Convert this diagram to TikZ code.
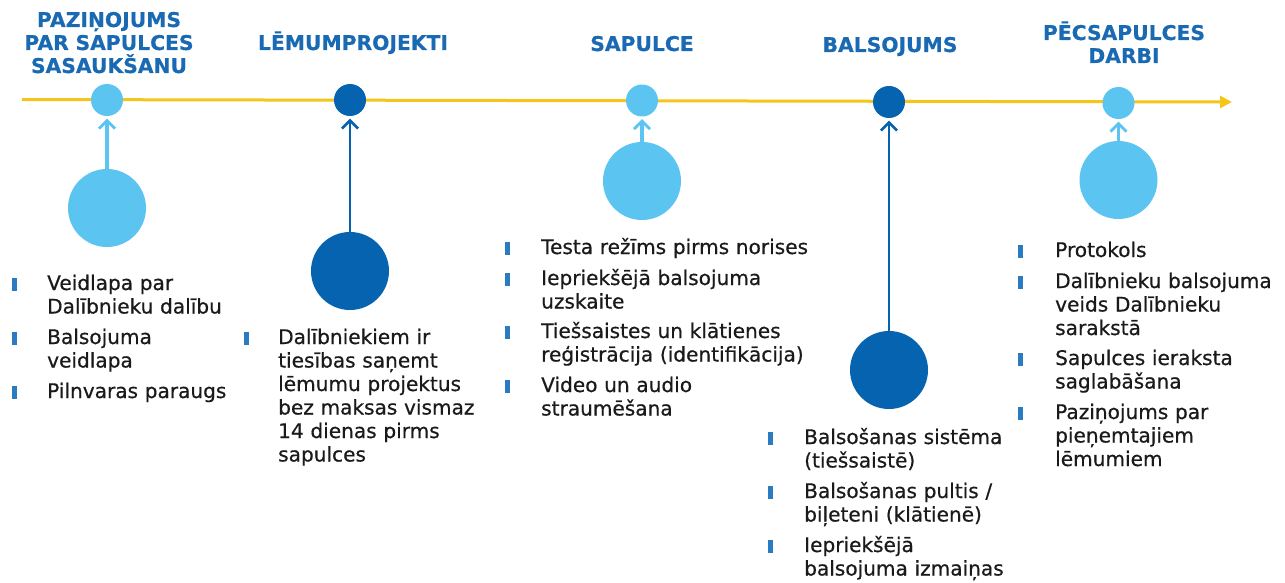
\documentclass[tikz,border=0pt]{standalone}
\usepackage{fontspec}
\setmainfont{DejaVu Sans}
\newfontfamily\bodyfont[FakeBold=0.6]{DejaVu Sans}
\newfontfamily\headfont[FakeBold=0.5]{DejaVu Sans Bold}
\usetikzlibrary{arrows.meta}
\definecolor{lightb}{HTML}{5BC4F1}
\definecolor{darkb}{HTML}{0563AF}
\definecolor{hdr}{HTML}{1A6AB3}
\definecolor{gold}{HTML}{F5C518}
\definecolor{bul}{HTML}{2B7BC0}
\definecolor{txt}{HTML}{1A1A1A}
\begin{document}
\begin{tikzpicture}[x=1pt,y=-1pt,
 hdrtext/.style={font=\headfont\fontsize{20.3}{23}\selectfont, text=hdr, align=center, text width=220pt, anchor=base, inner sep=0pt},
 item/.style={font=\bodyfont\fontsize{20.1}{23.5}\selectfont, text=txt, align=left, text width=270pt, anchor=base west, inner sep=0pt},
 bar/.style={fill=bul, minimum width=5pt, minimum height=13pt, inner sep=0pt, draw=none},
 smalldot/.style={circle, minimum size=32pt, inner sep=0pt, draw=none},
 bigdot/.style={circle, minimum size=78pt, inner sep=0pt, draw=none},
 uplight/.style={lightb, line width=3.2pt, shorten >=2.5pt, -{Straight Barb[length=8pt,width=16pt,line width=2.8pt]}},
 updark/.style={darkb, line width=2.6pt, shorten >=2.5pt, -{Straight Barb[length=8pt,width=16pt,line width=2.6pt]}}
]
\useasboundingbox (0,0) rectangle (1285,583);
% timeline
\coordinate (tlstart) at (22,99.5);
\coordinate (tlend) at (1232,102);
\draw[gold, line width=3pt, -{Triangle[length=12pt,width=12pt]}] (tlstart) -- (tlend);
% top dots
\node[smalldot, fill=lightb] (t1) at (107,100) {};
\node[smalldot, fill=darkb]  (t2) at (350,100) {};
\node[smalldot, fill=lightb] (t3) at (642,100.5) {};
\node[smalldot, fill=darkb]  (t4) at (889,102) {};
\node[smalldot, fill=lightb] (t5) at (1118.5,103) {};
% big dots
\node[bigdot, fill=lightb] (b1) at (107,208) {};
\node[bigdot, fill=darkb]  (b2) at (350,271) {};
\node[bigdot, fill=lightb] (b3) at (642,181) {};
\node[bigdot, fill=darkb]  (b4) at (889,370) {};
\node[bigdot, fill=lightb] (b5) at (1118.5,180) {};
% arrows
\draw[uplight] (b1.north) -- (t1.south);
\draw[updark]  (b2.north) -- (t2.south);
\draw[uplight] (b3.north) -- (t3.south);
\draw[updark]  (b4.north) -- (t4.south);
\draw[uplight] (b5.north) -- (t5.south);
% headers
\node[hdrtext] (h1) at (109,27) {PAZIŅOJUMS\\PAR SAPULCES\\SASAUKŠANU};
\node[hdrtext] (h2) at (353,50) {LĒMUMPROJEKTI};
\node[hdrtext] (h3) at (642,51) {SAPULCE};
\node[hdrtext] (h4) at (890,52) {BALSOJUMS};
\node[hdrtext] (h5) at (1124,40) {PĒCSAPULCES\\DARBI};
% column 1
\node[bar] (k1a) at (14,284) {};
\node[item] (i1a) at (47,290) {Veidlapa par\\Dalībnieku dalību};
\node[bar] (k1b) at (14,338) {};
\node[item] (i1b) at (47,344) {Balsojuma\\veidlapa};
\node[bar] (k1c) at (14,392) {};
\node[item] (i1c) at (47,398) {Pilnvaras paraugs};
% column 2
\node[bar] (k2a) at (246,338) {};
\node[item] (i2a) at (278,344) {Dalībniekiem ir\\tiesības saņemt\\lēmumu projektus\\bez maksas vismaz\\14 dienas pirms\\sapulces};
% column 3
\node[bar] (k3a) at (507,248) {};
\node[item] (i3a) at (541,254) {Testa režīms pirms norises};
\node[bar] (k3b) at (507,279) {};
\node[item] (i3b) at (541,285) {Iepriekšējā balsojuma\\uzskaite};
\node[bar] (k3c) at (507,332) {};
\node[item] (i3c) at (541,338) {Tiešsaistes un klātienes\\reģistrācija (identifikācija)};
\node[bar] (k3d) at (507,386) {};
\node[item] (i3d) at (541,392) {Video un audio\\straumēšana};
% column 4
\node[bar] (k4a) at (770,438) {};
\node[item] (i4a) at (804,444) {Balsošanas sistēma\\(tiešsaistē)};
\node[bar] (k4b) at (770,492) {};
\node[item] (i4b) at (804,498) {Balsošanas pultis /\\biļeteni (klātienē)};
\node[bar] (k4c) at (770,546) {};
\node[item] (i4c) at (804,552) {Iepriekšējā\\balsojuma izmaiņas};
% column 5
\node[bar] (k5a) at (1020,251) {};
\node[item] (i5a) at (1055,257) {Protokols};
\node[bar] (k5b) at (1020,282) {};
\node[item] (i5b) at (1055,288) {Dalībnieku balsojuma\\veids Dalībnieku\\sarakstā};
\node[bar] (k5c) at (1020,359) {};
\node[item] (i5c) at (1055,365) {Sapulces ieraksta\\saglabāšana};
\node[bar] (k5d) at (1020,413) {};
\node[item] (i5d) at (1055,419) {Paziņojums par\\pieņemtajiem\\lēmumiem};
\end{tikzpicture}
\end{document}
